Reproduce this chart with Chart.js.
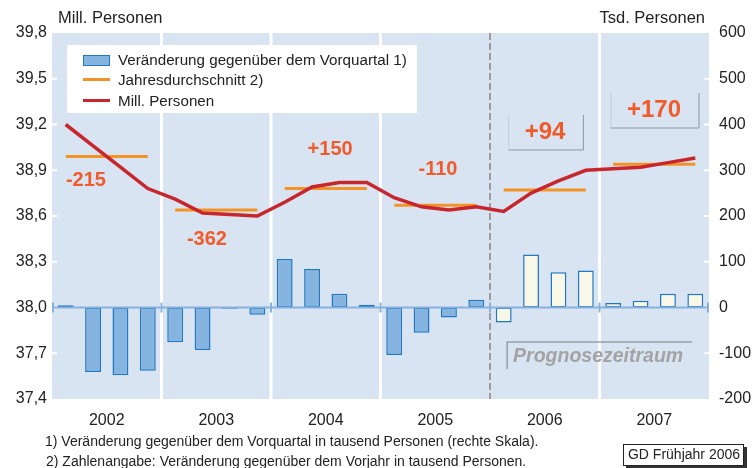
<!DOCTYPE html>
<html>
<head>
<meta charset="utf-8">
<script src="https://cdn.jsdelivr.net/npm/chart.js@4.4.1/dist/chart.umd.min.js"></script>
<style>
  body { margin: 0; background: #fff; }
  #wrap { width: 756px; height: 468px; }
</style>
</head>
<body>
<div id="wrap"><canvas id="chart" width="756" height="468"></canvas></div>
<script>
// Data
const years = ["2002", "2003", "2004", "2005", "2006", "2007"];
const quarters = ["Q1", "Q2", "Q3", "Q4"];
const changeVsPrevQuarter = [5, -141, -148, -138, -76, -93, -3, -16, 106, 84, 30, 6,
                             -104, -55, -22, 17, -33, 116, 77, 81, 10, 15, 30, 30];
const millPersonen = [39.20, 39.06, 38.92, 38.78, 38.71, 38.62, 38.61, 38.60,
                      38.69, 38.79, 38.82, 38.82, 38.72, 38.66, 38.64, 38.66,
                      38.63, 38.75, 38.83, 38.90, 38.91, 38.92, 38.95, 38.98];
const yearAverage = [38.99, 38.64, 38.78, 38.67, 38.77, 38.94];
const changeVsPrevYear = ["-215", "-362", "+150", "-110", "+94", "+170"];
const forecastFromYear = "2006";

// label placement (quarter index, left axis value) and styling
const yearLabelPos = [[0.74, 38.836], [5.16, 38.449], [9.66, 39.039], [13.6, 38.908], [17.51, 39.151], [21.49, 39.295]];
const yearLabelSize = [20, 20, 20, 20, 24, 24];
const yearLabelBoxed = [false, false, false, false, true, true];

const quarterLabels = years.flatMap(y => quarters.map(q => y + " " + q));
const forecastIndex = years.indexOf(forecastFromYear) * 4;
const avgPerQuarter = quarterLabels.map((_, i) => yearAverage[Math.floor(i / 4)]);

const FONT = "'Liberation Sans', Arial, sans-serif";
const BLUE_FILL = "#86b4e0";
const BLUE_EDGE = "#1f78c1";
const CREAM = "#f8f7e8";
const RED = "#c8262d";
const ORANGE = "#f39325";
const LABEL_ORANGE = "#f15a29";

const decorations = {
    id: "decorations",
    beforeDatasetsDraw(chart) {
        const { ctx, chartArea: a, scales } = chart;
        const xs = scales.x;
        ctx.save();
        ctx.fillStyle = "#d9e4f3";
        ctx.fillRect(a.left, a.top, a.right - a.left, a.bottom - a.top);

        // year separators
        for (let i = 1; i < years.length; i++) {
            const x = (xs.getPixelForValue(4 * i - 1) + xs.getPixelForValue(4 * i)) / 2;
            ctx.beginPath();
            if (4 * i === forecastIndex) {
                ctx.strokeStyle = "#9c9c9c";
                ctx.lineWidth = 2;
                ctx.setLineDash([7, 3]);
            } else {
                ctx.strokeStyle = "#ffffff";
                ctx.lineWidth = 3;
                ctx.setLineDash([]);
            }
            ctx.moveTo(x, a.top);
            ctx.lineTo(x, a.bottom);
            ctx.stroke();
        }
        ctx.setLineDash([]);

        // small white ticks inside the plot edges
        ctx.fillStyle = "#ffffff";
        scales.y.ticks.forEach(t => {
            const y = scales.y.getPixelForValue(t.value);
            if (y > a.top + 2 && y < a.bottom - 2) ctx.fillRect(a.left, y - 1, 5, 2);
        });
        scales.y2.ticks.forEach(t => {
            const y = scales.y2.getPixelForValue(t.value);
            if (y > a.top + 2 && y < a.bottom - 2) ctx.fillRect(a.right - 5, y - 1, 5, 2);
        });

        // "Prognosezeitraum" box
        const px = xs.getPixelForValue(19.45);
        const py = scales.y2.getPixelForValue(-106);
        ctx.font = "italic bold 19.5px " + FONT;
        ctx.textAlign = "center";
        ctx.textBaseline = "middle";
        ctx.fillStyle = "#a3a3a3";
        ctx.fillText("Prognosezeitraum", px, py + 1);
        ctx.strokeStyle = "#95a0ab";
        ctx.lineWidth = 1.5;
        ctx.beginPath();
        ctx.moveTo(px - 91, py + 13);
        ctx.lineTo(px - 91, py - 14);
        ctx.lineTo(px + 94, py - 14);
        ctx.stroke();
        ctx.restore();
    },
    afterDatasetsDraw(chart) {
        const { ctx, chartArea: a, scales } = chart;
        const xs = scales.x;
        ctx.save();
        // zero line of the right scale
        const y0 = scales.y2.getPixelForValue(0);
        ctx.strokeStyle = "#87b1dc";
        ctx.lineWidth = 2;
        ctx.beginPath();
        ctx.moveTo(a.left, y0);
        ctx.lineTo(a.right, y0);
        for (let i = 0; i <= years.length; i++) {
            let x;
            if (i === 0) x = a.left + 1;
            else if (i === years.length) x = a.right - 1;
            else x = (xs.getPixelForValue(4 * i - 1) + xs.getPixelForValue(4 * i)) / 2;
            ctx.moveTo(x, y0 - 5);
            ctx.lineTo(x, y0 + 5);
        }
        ctx.stroke();

        // yearly change labels
        ctx.textAlign = "center";
        ctx.textBaseline = "middle";
        changeVsPrevYear.forEach((txt, i) => {
            const x = xs.getPixelForValue(yearLabelPos[i][0]);
            const y = scales.y.getPixelForValue(yearLabelPos[i][1]);
            ctx.font = "bold " + yearLabelSize[i] + "px " + FONT;
            ctx.fillStyle = LABEL_ORANGE;
            ctx.fillText(txt, x, y);
            if (yearLabelBoxed[i]) {
                const w = ctx.measureText(txt).width;
                const l = x - w / 2 - 16, r = x + w / 2 + 18, t = y - 17, b = y + 18;
                ctx.lineWidth = 1;
                ctx.strokeStyle = "#c3cbd6";
                ctx.beginPath();
                ctx.moveTo(l, b);
                ctx.lineTo(l, t);
                ctx.stroke();
                ctx.strokeStyle = "#8d96a1";
                ctx.beginPath();
                ctx.moveTo(r, t);
                ctx.lineTo(r, b);
                ctx.lineTo(l, b);
                ctx.stroke();
            }
        });

        // legend
        ctx.fillStyle = "#ffffff";
        ctx.fillRect(67, 45, 350, 68);
        ctx.fillStyle = BLUE_FILL;
        ctx.fillRect(83, 55, 27, 11);
        ctx.strokeStyle = BLUE_EDGE;
        ctx.lineWidth = 1;
        ctx.strokeRect(83.5, 55.5, 26, 10);
        ctx.lineWidth = 3;
        ctx.strokeStyle = ORANGE;
        ctx.beginPath(); ctx.moveTo(83, 79.5); ctx.lineTo(110, 79.5); ctx.stroke();
        ctx.strokeStyle = RED;
        ctx.beginPath(); ctx.moveTo(83, 100.5); ctx.lineTo(110, 100.5); ctx.stroke();
        ctx.font = "15.2px " + FONT;
        ctx.fillStyle = "#222";
        ctx.textAlign = "left";
        ctx.fillText("Veränderung gegenüber dem Vorquartal 1)", 118, 61);
        ctx.fillText("Jahresdurchschnitt 2)", 118, 81);
        ctx.fillText("Mill. Personen", 118, 102);

        // axis titles
        ctx.font = "16.5px " + FONT;
        ctx.fillText("Mill. Personen", 58, 18.5);
        ctx.textAlign = "right";
        ctx.fillText("Tsd. Personen", 705, 18.5);

        // footnotes
        ctx.textAlign = "left";
        ctx.font = "14px " + FONT;
        ctx.fillText("1) Veränderung gegenüber dem Vorquartal in tausend Personen (rechte Skala).", 45, 442);
        ctx.fillText("2) Zahlenangabe: Veränderung gegenüber dem Vorjahr in tausend Personen.", 46, 462);

        // source box
        ctx.fillStyle = "#333";
        ctx.fillRect(626, 447, 121, 22);
        ctx.fillStyle = "#ffffff";
        ctx.fillRect(623, 444, 121, 22);
        ctx.strokeStyle = "#222";
        ctx.lineWidth = 1;
        ctx.strokeRect(623.5, 444.5, 120, 21);
        ctx.fillStyle = "#222";
        ctx.textAlign = "center";
        ctx.font = "14px " + FONT;
        ctx.fillText("GD Frühjahr 2006", 684, 455.5);
        ctx.restore();
    }
};

new Chart(document.getElementById("chart"), {
    type: "bar",
    data: {
        labels: quarterLabels,
        datasets: [
            {
                type: "line",
                label: "Mill. Personen",
                data: millPersonen,
                yAxisID: "y",
                borderColor: RED,
                borderWidth: 3.5,
                pointRadius: 0,
                tension: 0,
                order: 1
            },
            {
                type: "line",
                label: "Jahresdurchschnitt 2)",
                data: avgPerQuarter,
                yAxisID: "y",
                borderColor: ORANGE,
                borderWidth: 3,
                pointRadius: 0,
                segment: {
                    borderColor: c => (c.p0DataIndex % 4 === 3 ? "rgba(0,0,0,0)" : ORANGE)
                },
                order: 2
            },
            {
                label: "Veränderung gegenüber dem Vorquartal 1)",
                data: changeVsPrevQuarter,
                yAxisID: "y2",
                backgroundColor: c => (c.dataIndex >= forecastIndex ? CREAM : BLUE_FILL),
                borderColor: BLUE_EDGE,
                borderWidth: 1.5,
                borderSkipped: false,
                categoryPercentage: 1,
                barPercentage: 0.58,
                order: 3
            }
        ]
    },
    options: {
        responsive: false,
        animation: false,
        layout: { padding: { top: 33, left: 0, right: 0, bottom: 0 } },
        plugins: { legend: { display: false }, tooltip: { enabled: false } },
        scales: {
            x: {
                display: false
            },
            years: {
                type: "category",
                labels: years,
                position: "bottom",
                offset: true,
                grid: { display: false },
                border: { display: false },
                ticks: { color: "#222", font: { family: FONT, size: 16 }, padding: 4 },
                afterFit: s => { s.height = 69; }
            },
            y: {
                position: "left",
                min: 37.4,
                max: 39.8,
                ticks: {
                    stepSize: 0.3,
                    color: "#222",
                    padding: 5,
                    font: { family: FONT, size: 16 },
                    callback: v => v.toFixed(1).replace(".", ",")
                },
                grid: { display: false, drawTicks: false },
                border: { display: false },
                afterFit: s => { s.width = 52; }
            },
            y2: {
                position: "right",
                min: -200,
                max: 600,
                ticks: {
                    stepSize: 100,
                    color: "#222",
                    padding: 10,
                    font: { family: FONT, size: 16 }
                },
                grid: { display: false, drawTicks: false },
                border: { display: false },
                afterFit: s => { s.width = 47; }
            }
        }
    },
    plugins: [decorations]
});
</script>
</body>
</html>
